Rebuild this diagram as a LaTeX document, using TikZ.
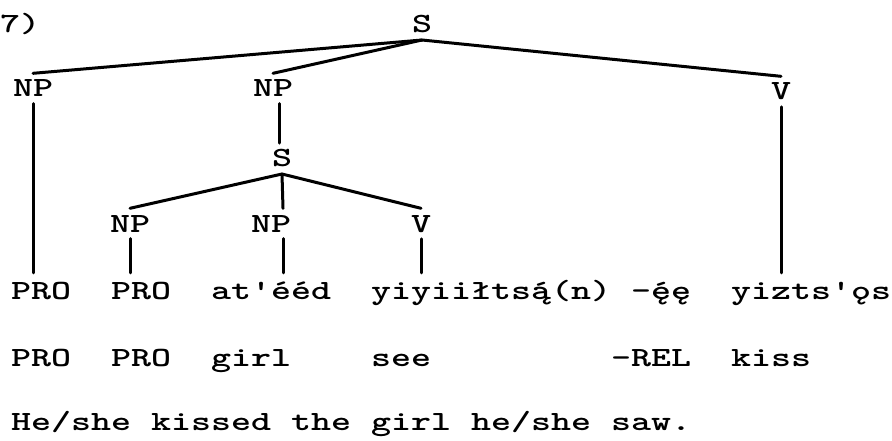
\documentclass[tikz,border=0pt]{standalone}
\usepackage{fontspec}
\usepackage{graphicx}
\usetikzlibrary{calc}
\newcommand\tw[1]{\scalebox{1.37}[1]{\ttfamily\bfseries\fontsize{27.8}{32}\selectfont #1}}
\newcommand\acu[1]{#1\llap{´}}
\begin{document}
\begin{tikzpicture}[x=1pt,y=-1pt,
  lab/.style={inner xsep=0pt, inner ysep=6.5pt, anchor=base},
  word/.style={inner sep=0pt, anchor=base west, text height=26pt, text depth=0pt},
  tree/.style={line width=3pt, line cap=round}]
\useasboundingbox (0,0) rectangle (892,441);
\node[word] (num) at (0,33) {\tw{7)}};
\node[lab] (s0) at (422,33) {\tw{S}};
\node[lab] (np1) at (33,97) {\tw{NP}};
\node[lab] (np2) at (273,97) {\tw{NP}};
\node[lab] (v0) at (781,100) {\tw{V}};
\node[lab] (s1) at (282,167) {\tw{S}};
\node[lab] (np3) at (130,232) {\tw{NP}};
\node[lab] (np4) at (271,232) {\tw{NP}};
\node[lab] (v1) at (421,232) {\tw{V}};
% row 1
\node[word] (w1) at (11,299) {\tw{PRO}};
\node[word] (w2) at (111,299) {\tw{PRO}};
\node[word] (w3) at (211,299) {\tw{at'ééd}};
\node[word] (w4) at (371,299) {\tw{yiyiiłts\acu{ą}(n)}};
\node[word] (w5) at (631,299) {\tw{-\acu{ę}ę}};
\node[word] (w6) at (731,299) {\tw{yizts'ǫs}};
% row 2
\node[word] (g1) at (11,366) {\tw{PRO}};
\node[word] (g2) at (111,366) {\tw{PRO}};
\node[word] (g3) at (211,366) {\tw{girl}};
\node[word] (g4) at (371,366) {\tw{see}};
\node[word] (g5) at (611,366) {\tw{-REL}};
\node[word] (g6) at (731,366) {\tw{kiss}};
% row 3
\node[word] (tr) at (11,430) {\tw{He/she kissed the girl he/she saw.}};
% tree
\draw[tree] (s0.south) -- (np1.north);
\draw[tree] (s0.south) -- (np2.north);
\draw[tree] (s0.south) -- (v0.north);
\draw[tree] (np1.south) -- (np1.south |- w1.north);
\draw[tree] ($(np2.south)+(6,0)$) -- ($(np2.south |- s1.north)+(6,0)$);
\draw[tree] (v0.south) -- (v0.south |- w6.north);
\draw[tree] (s1.south) -- (np3.north);
\draw[tree] (s1.south) -- ($(np4.north)+(12,0)$);
\draw[tree] (s1.south) -- (v1.north);
\draw[tree] (np3.south) -- (np3.south |- w2.north);
\draw[tree] ($(np4.south)+(12,0)$) -- ($(np4.south |- w3.north)+(12,0)$);
\draw[tree] (v1.south) -- (v1.south |- w4.north);
\end{tikzpicture}
\end{document}
